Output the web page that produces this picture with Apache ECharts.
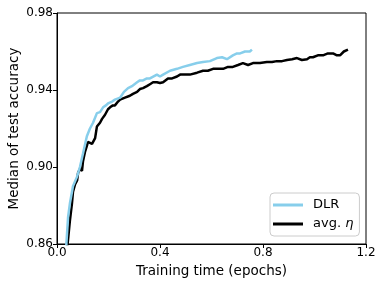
<!DOCTYPE html>
<html><head><meta charset="utf-8">
<script src="https://cdn.jsdelivr.net/npm/echarts@6/dist/echarts.min.js"></script>
<style>html,body{margin:0;padding:0;background:#fff}#c{width:384px;height:288px}</style>
</head><body><div id="c"></div>
<script>
const seriesNames = ['DLR', 'avg. η'];
const xTicks = [0.0, 0.4, 0.8, 1.2];
const yTicks = [0.86, 0.90, 0.94, 0.98];
const dlrX = [0.035,0.043,0.050,0.062,0.078,0.089,0.101,0.116,0.128,0.140,0.155,0.167,0.179,0.190,0.198,0.214,0.225,0.245,0.260,0.276,0.291,0.311,0.322,0.334,0.349,0.361,0.388,0.400,0.412,0.439,0.466,0.489,0.516,0.544,0.567,0.594,0.621,0.641,0.660,0.683,0.699,0.711,0.730,0.749,0.757];
const dlrY = [0.857,0.874,0.881,0.890,0.895,0.900,0.907,0.916,0.920,0.923,0.928,0.9285,0.931,0.932,0.933,0.934,0.935,0.936,0.939,0.941,0.942,0.944,0.945,0.945,0.946,0.946,0.948,0.947,0.948,0.950,0.951,0.952,0.953,0.954,0.9545,0.955,0.9566,0.957,0.956,0.958,0.959,0.959,0.960,0.960,0.961];
const avgX = [0.039,0.050,0.058,0.062,0.070,0.078,0.082,0.089,0.097,0.101,0.109,0.116,0.120,0.136,0.148,0.155,0.167,0.175,0.186,0.198,0.206,0.217,0.225,0.237,0.245,0.264,0.283,0.295,0.311,0.322,0.334,0.349,0.361,0.373,0.388,0.400,0.412,0.431,0.447,0.466,0.478,0.489,0.505,0.516,0.544,0.567,0.586,0.606,0.633,0.645,0.664,0.683,0.703,0.722,0.742,0.761,0.788,0.815,0.835,0.854,0.874,0.893,0.913,0.932,0.951,0.971,0.982,0.994,1.013,1.033,1.052,1.072,1.087,1.099,1.114,1.130];
const avgY = [0.857,0.872,0.881,0.887,0.891,0.893,0.897,0.899,0.898,0.903,0.908,0.911,0.913,0.912,0.915,0.921,0.923,0.925,0.927,0.930,0.931,0.932,0.932,0.934,0.935,0.936,0.937,0.938,0.939,0.9405,0.941,0.942,0.943,0.944,0.944,0.9436,0.944,0.946,0.946,0.947,0.948,0.948,0.948,0.948,0.949,0.950,0.950,0.951,0.951,0.951,0.952,0.952,0.953,0.954,0.953,0.954,0.954,0.9545,0.9545,0.955,0.955,0.9556,0.956,0.9566,0.9556,0.956,0.957,0.957,0.958,0.958,0.959,0.959,0.958,0.958,0.960,0.961];

const zip = (xs, ys) => xs.map((x, i) => [x, ys[i]]);
const font = 'DejaVu Sans';
const chart = echarts.init(document.getElementById('c'), null, {renderer: 'canvas'});
chart.setOption({
  animation: false,
  backgroundColor: '#fff',
  grid: {left: 57, right: 18, top: 13, bottom: 44, containLabel: false, outerBoundsMode: 'none',
    show: true, borderColor: '#000', borderWidth: 1, backgroundColor: 'transparent'},
  xAxis: {
    type: 'value', min: xTicks[0], max: xTicks[xTicks.length-1], interval: 0.4,
    name: 'Training time (epochs)', nameLocation: 'middle', nameGap: 20, nameMoveOverlap: false,
    nameTextStyle: {fontFamily: font, fontSize: 13.5, color: '#000'},
    axisLine: {show: true, lineStyle: {color: '#000', width: 1}},
    axisTick: {show: true, inside: false, length: 4, lineStyle: {color: '#000'}},
    axisLabel: {fontFamily: font, fontSize: 12, color: '#000', margin: 3, formatter: v => v.toFixed(1)},
    splitLine: {show: false}
  },
  yAxis: {
    type: 'value', min: yTicks[0], max: yTicks[yTicks.length-1], interval: 0.04,
    name: 'Median of test accuracy', nameLocation: 'middle', nameGap: 36, nameMoveOverlap: false,
    nameTextStyle: {fontFamily: font, fontSize: 13.5, color: '#000'},
    axisLine: {show: true, lineStyle: {color: '#000', width: 1}},
    axisTick: {show: true, inside: false, length: 4, lineStyle: {color: '#000'}},
    axisLabel: {fontFamily: font, fontSize: 12, color: '#000', margin: 4, formatter: v => v.toFixed(2)},
    splitLine: {show: false}
  },
  legend: {
    left: 270, top: 193, orient: 'vertical',
    data: seriesNames,
    icon: 'rect', itemWidth: 30, itemHeight: 3, itemGap: 5,
    padding: [5, 6, 5, 3],
    borderColor: '#ccc', borderWidth: 1, borderRadius: 4, backgroundColor: 'rgba(255,255,255,0.85)',
    textStyle: {fontFamily: font, fontSize: 13, lineHeight: 14, color: '#000', padding: [0, 0, 0, 5],
      rich: {i: {fontFamily: font, fontStyle: 'italic', fontSize: 13, lineHeight: 14, color: '#000'}}},
    formatter: n => n === 'avg. η' ? 'avg. {i|η}' : n
  },
  series: [
    {name: seriesNames[0], type: 'line', data: zip(dlrX, dlrY), showSymbol: false, clip: true,
     lineStyle: {color: '#87CEEB', width: 2.5}, itemStyle: {color: '#87CEEB'}, z: 3},
    {name: seriesNames[1], type: 'line', data: zip(avgX, avgY), showSymbol: false, clip: true,
     lineStyle: {color: '#000', width: 2.5}, itemStyle: {color: '#000'}, z: 2}
  ]
});
</script></body></html>
